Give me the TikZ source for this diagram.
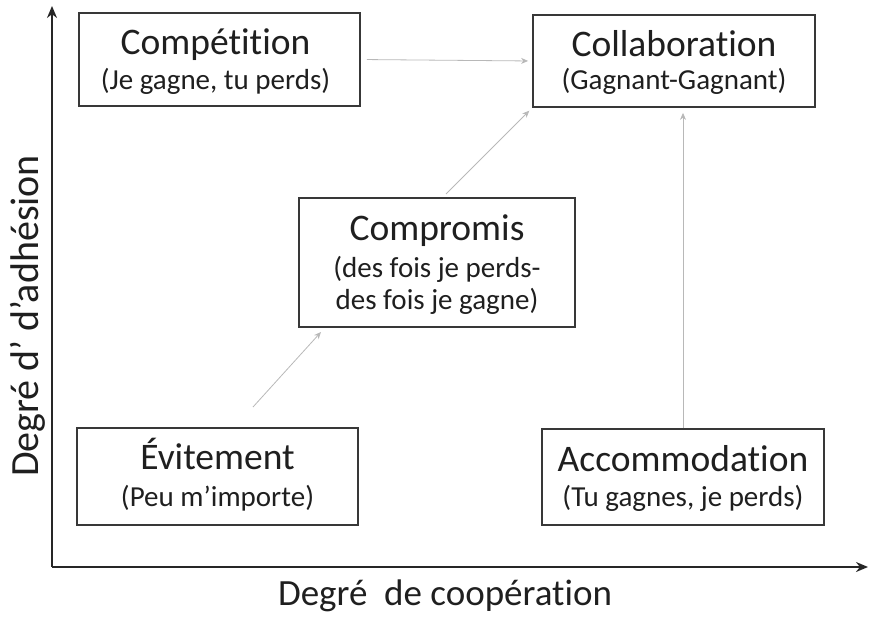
\documentclass[tikz,border=0pt]{standalone}
\usepackage{fontspec}
\setmainfont{Carlito}[Ligatures=NoCommon]
\usetikzlibrary{arrows.meta,calc}
\tikzset{
  box/.style={draw=black!78, line width=1.8pt, fill=white, rectangle, inner sep=0pt},
  ttl/.style={anchor=base, inner sep=0pt, text=black!88, font=\fontsize{37.5}{38}\selectfont},
  sub/.style={anchor=base, inner sep=0pt, text=black!88, font=\fontsize{29}{30}\selectfont},
  conn/.style={draw=black!28, line width=0.8pt, -{Stealth[length=7pt,width=6pt]}},
  axis/.style={draw=black!85, line width=2.4pt, -{Stealth[length=12pt,width=10pt]}},
  axlabel/.style={anchor=base, text=black!88, inner sep=0pt},
}
\begin{document}
\begin{tikzpicture}[x=1pt,y=-1pt]
\useasboundingbox (0,0) rectangle (870,616);
% axes
\coordinate (O) at (52,567);
\coordinate (ytop) at (52,6);
\coordinate (xend) at (868,567);
\draw[axis] (O) -- (ytop);
\draw[axis] (O) -- (xend);
\node[axlabel, font=\fontsize{37}{38}\selectfont] (xl) at (445,605) {Degré\ \ de coopération};
\node[axlabel, font=\fontsize{40}{41}\selectfont, rotate=90] (yl) at (38,316) {Degré d’ d’adhésion};
% boxes
\node[box, minimum width=281pt, minimum height=93pt] (comp) at (219.5,59.5) {};
\node[ttl] (compT) at ($(comp.north)+(-4,42)$) {Compétition};
\node[sub] (compS) at ($(comp.north)+(-4,77)$) {(Je gagne, tu perds)};
\node[box, minimum width=282pt, minimum height=92pt] (coll) at (674,61) {};
\node[ttl] (collT) at ($(coll.north)+(0,42)$) {Collaboration};
\node[sub] (collS) at ($(coll.north)+(0,75)$) {(Gagnant-Gagnant)};
\node[box, minimum width=276pt, minimum height=129pt] (compr) at (437,262.5) {};
\node[ttl] (comprT) at ($(compr.north)+(0,43)$) {Compromis};
\node[sub] (comprS1) at ($(compr.north)+(0,80)$) {(des fois je perds-};
\node[sub] (comprS2) at ($(compr.north)+(0,112)$) {des fois je gagne)};
\node[box, minimum width=281pt, minimum height=97pt] (evit) at (217.5,476.5) {};
\node[ttl] (evitT) at ($(evit.north)+(0,42)$) {Évitement};
\node[sub] (evitS) at ($(evit.north)+(0,79)$) {(Peu m’importe)};
\node[box, minimum width=282pt, minimum height=96pt] (acc) at (683,477) {};
\node[ttl] (accT) at ($(acc.north)+(0,43)$) {Accommodation};
\node[sub] (accS) at ($(acc.north)+(0,78)$) {(Tu gagnes, je perds)};
% connectors
\draw[conn, shorten <=6pt, shorten >=4pt] (comp.east) -- (coll.west);
\coordinate (c1) at (446,194);
\draw[conn, shorten >=4pt] (c1) -- (coll.south west);
\coordinate (e1) at (253,407);
\coordinate (e2) at (321,332);
\draw[conn] (e1) -- (e2);
\draw[conn, shorten >=5pt] (acc.north) -- (acc.north |- coll.south);
\end{tikzpicture}
\end{document}
